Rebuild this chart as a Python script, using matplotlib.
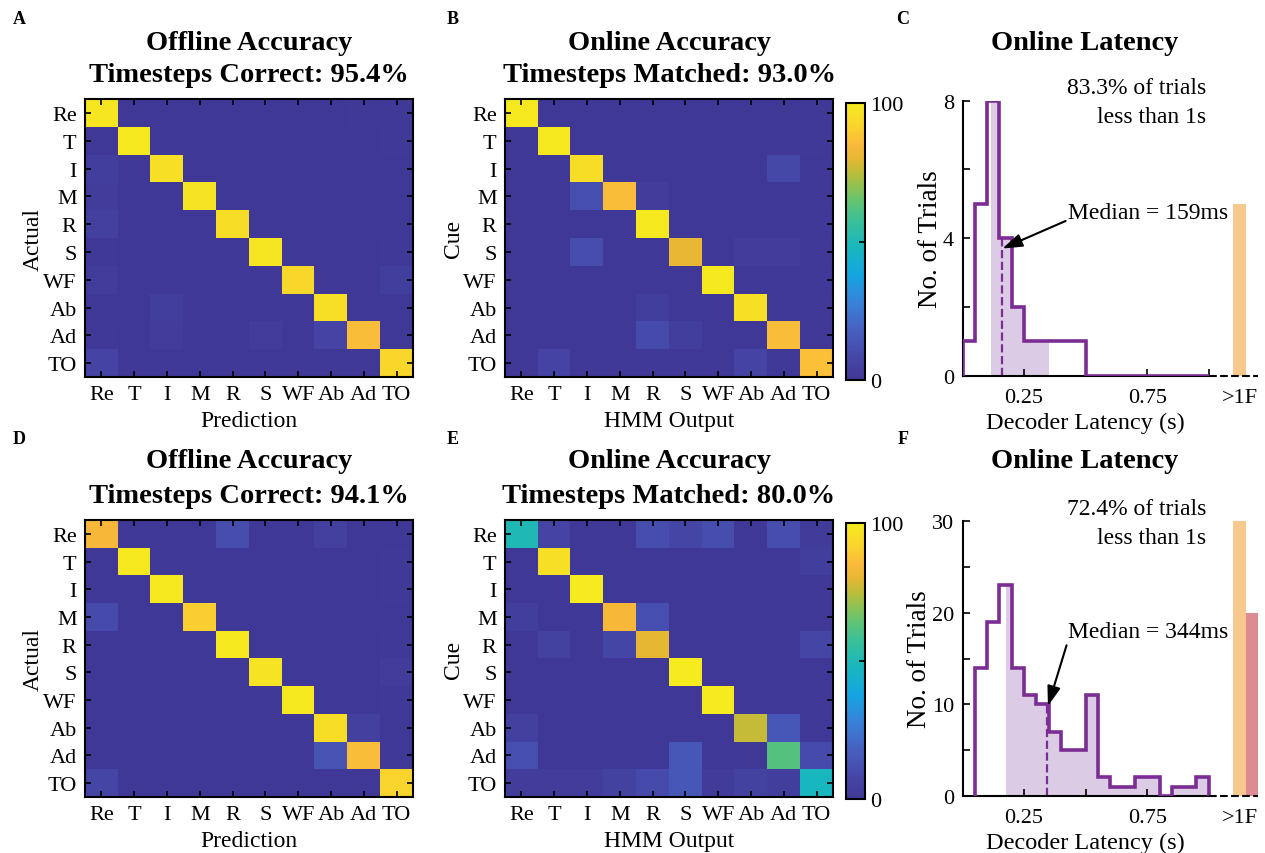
import matplotlib.pyplot as plt
import numpy as np
from matplotlib.colors import LinearSegmentedColormap

plt.rcParams['font.family'] = ['Liberation Serif', 'DejaVu Serif']

gestures = ['Re', 'T', 'I', 'M', 'R', 'S', 'WF', 'Ab', 'Ad', 'TO']

# confusion matrices in percent (rows = actual / cued, cols = predicted / HMM output)
offline_top = [
    [98, 0, 0, 0, 0, 0, 0, 0, 1, 1],
    [0, 99, 0, 0, 0, 0, 0, 0, 0, 1],
    [4, 0, 96, 0, 0, 0, 0, 0, 0, 0],
    [3, 0, 0, 97, 0, 0, 0, 0, 0, 0],
    [5, 0, 0, 0, 95, 0, 0, 0, 0, 0],
    [1, 0, 0, 0, 0, 98, 0, 0, 0, 1],
    [3, 0, 0, 0, 0, 0, 93, 0, 0, 4],
    [0, 0, 4, 0, 0, 0, 0, 96, 0, 0],
    [1, 0, 3, 0, 0, 3, 0, 7, 86, 0],
    [7, 0, 0, 0, 0, 0, 0, 0, 0, 93],
]
online_top = [
    [99, 0, 0, 0, 0, 0, 0, 0, 0, 1],
    [0, 99, 0, 0, 0, 0, 0, 0, 0, 1],
    [0, 0, 95, 0, 0, 0, 0, 0, 9, 0],
    [0, 0, 12, 86, 3, 0, 0, 0, 0, 0],
    [0, 0, 0, 0, 99, 0, 0, 0, 0, 1],
    [0, 0, 11, 0, 0, 81, 0, 3, 3, 0],
    [0, 0, 0, 0, 0, 0, 99, 0, 0, 1],
    [0, 0, 0, 0, 4, 0, 0, 96, 0, 0],
    [0, 0, 0, 0, 10, 4, 0, 0, 86, 0],
    [0, 7, 0, 0, 0, 0, 0, 7, 0, 87],
]
offline_bot = [
    [84, 0, 0, 0, 11, 0, 0, 5, 0, 0],
    [0, 99, 0, 0, 0, 0, 0, 0, 0, 1],
    [0, 0, 99, 0, 0, 0, 0, 0, 0, 1],
    [10, 0, 0, 90, 0, 0, 0, 0, 0, 0],
    [0, 0, 0, 0, 99, 0, 0, 0, 0, 1],
    [0, 0, 0, 0, 0, 97, 0, 0, 0, 3],
    [0, 0, 0, 0, 0, 0, 99, 0, 0, 1],
    [0, 0, 0, 0, 0, 0, 0, 95, 5, 0],
    [0, 0, 0, 0, 0, 0, 0, 14, 86, 0],
    [8, 0, 0, 0, 0, 0, 0, 0, 0, 92],
]
online_bot = [
    [50, 7, 0, 0, 11, 8, 11, 0, 11, 2],
    [0, 96, 0, 0, 0, 0, 0, 0, 0, 4],
    [0, 0, 100, 0, 0, 0, 0, 0, 0, 0],
    [4, 0, 0, 84, 12, 0, 0, 0, 0, 0],
    [0, 6, 0, 8, 80, 0, 0, 0, 0, 8],
    [0, 0, 0, 0, 0, 100, 0, 0, 0, 0],
    [0, 0, 0, 0, 0, 0, 100, 0, 0, 0],
    [5, 0, 0, 0, 0, 0, 0, 76, 15, 0],
    [12, 0, 0, 0, 0, 15, 0, 0, 62, 10],
    [3, 3, 3, 6, 10, 15, 2, 6, 4, 48],
]
acc_offline_top = 95.4
acc_online_top = 93.0
acc_offline_bot = 94.1
acc_online_bot = 80.0

# decoder latency histograms (50 ms bins) plus trials slower than 1 s
lat_edges_top = np.round(np.arange(0.0, 1.001, 0.05), 2)
lat_counts_top = [1, 5, 8, 4, 2, 1, 1, 1, 1, 1, 0, 0, 0, 0, 0, 0, 0, 0, 0, 0]
lat_over_top = [5]
lat_iqr_top = (0.117, 0.352)
lat_median_top = 0.159
lat_pct_top = 83.3

lat_edges_bot = np.round(np.arange(0.05, 1.001, 0.05), 2)
lat_counts_bot = [14, 19, 23, 14, 11, 10, 7, 5, 5, 11, 2, 1, 1, 2, 2, 0, 1, 1, 2]
lat_over_bot = [30, 20]
lat_iqr_bot = (0.177, 1.0)
lat_median_bot = 0.344
lat_pct_bot = 72.4

# parula-like colour map
anchors = [
    (0.00, (64, 56, 150)), (0.08, (70, 70, 166)), (0.18, (72, 96, 192)),
    (0.28, (55, 130, 218)), (0.38, (20, 165, 225)), (0.48, (25, 183, 190)),
    (0.58, (60, 192, 150)), (0.66, (110, 196, 105)), (0.74, (180, 190, 60)),
    (0.80, (230, 183, 50)), (0.85, (250, 185, 60)), (0.92, (250, 212, 45)),
    (1.00, (245, 235, 30)),
]
parula = LinearSegmentedColormap.from_list(
    'parula', [(p, tuple(v / 255 for v in c)) for p, c in anchors])

purple = '#7b2d93'
W, H = 1265, 854
fig = plt.figure(figsize=(W / 100, H / 100), dpi=100)


def px_axes(x0, y0, x1, y1):
    return fig.add_axes([x0 / W, 1 - y1 / H, (x1 - x0) / W, (y1 - y0) / H])


def conf_panel(box, mat, xlabel, ylabel, cbar_box=None):
    ax = px_axes(*box)
    im = ax.imshow(np.array(mat), cmap=parula, vmin=0, vmax=100,
                   aspect='auto', interpolation='nearest')
    ax.set_xticks(range(10))
    ax.set_yticks(range(10))
    ax.set_xticklabels(gestures)
    ax.set_yticklabels(gestures)
    ax.tick_params(direction='in', top=True, right=True, length=4, width=1.2,
                   labelsize=16, pad=6)
    for s in ax.spines.values():
        s.set_linewidth(1.5)
    ax.set_xlabel(xlabel, fontsize=17, labelpad=4)
    ax.set_ylabel(ylabel, fontsize=17)
    ax.yaxis.set_label_coords(-0.125, 0.5)
    if cbar_box is not None:
        cax = px_axes(*cbar_box)
        cb = fig.colorbar(im, cax=cax, ticks=[0, 50, 100])
        cb.ax.set_yticklabels(['0', '', '100'])
        cb.ax.tick_params(direction='in', length=4, width=1.2, labelsize=16)
        cb.outline.set_linewidth(1.5)
    return ax


def latency_panel(box, edges, counts, over, iqr, median, pct, ymax, ystep,
                  text_y, med_text_xy, med_head_y):
    ax = px_axes(*box)
    edges = np.asarray(edges)
    counts = np.asarray(counts)

    # shaded interquartile region under the histogram
    lo, hi = iqr
    xs = np.concatenate([[lo], edges[(edges > lo) & (edges < hi)], [hi]])
    idx = np.clip(np.searchsorted(edges, xs, side='right') - 1, 0, len(counts) - 1)
    ax.fill_between(xs, counts[idx], step='post', color='#dccbe4', lw=0, zorder=1)

    ax.stairs(counts, edges, baseline=0, color=purple, lw=2.6, zorder=3)

    mh = counts[np.searchsorted(edges, median, side='right') - 1]
    ax.plot([median, median], [0, mh], '--', color=purple, lw=1.6, zorder=2)

    over_cols = ['#f8c98e', '#dc8b93']
    ax.bar([1.125 + 0.05 * i for i in range(len(over))], over, width=0.05,
           color=over_cols[:len(over)], zorder=2)
    ax.plot([1.0, 1.2], [0, 0], '--', color='k', lw=1.5, clip_on=False, zorder=4)

    ax.set_xlim(0, 1.2)
    ax.set_ylim(0, ymax)
    ax.spines['top'].set_visible(False)
    ax.spines['right'].set_visible(False)
    ax.spines['bottom'].set_bounds(0, 1.0)
    for s in ('left', 'bottom'):
        ax.spines[s].set_linewidth(1.5)
    ax.set_xticks([0.25, 0.5, 0.75, 1.0, 1.125])
    ax.set_xticklabels(['0.25', '', '0.75', '', '>1F'])
    ax.xaxis.get_major_ticks()[-1].tick1line.set_visible(False)
    yt = np.arange(0, ymax + 1, ystep)
    ax.set_yticks(yt)
    ax.set_yticklabels([str(int(v)) if i % 2 == 0 else '' for i, v in enumerate(yt)])
    ax.tick_params(direction='in', length=5, width=1.2, labelsize=16)
    ax.tick_params(axis='x', pad=9)
    ax.tick_params(axis='y', pad=6)
    ax.set_xlabel('Decoder Latency (s)', fontsize=17.5)
    ax.xaxis.set_label_coords(0.415, -0.13)
    ax.set_ylabel('No. of Trials', fontsize=19.5, labelpad=0)

    ax.text(0.99, text_y, '%.1f%% of trials\nless than 1s' % pct, ha='right',
            va='top', fontsize=17, linespacing=1.5, clip_on=False)
    ax.annotate('Median = %dms' % round(median * 1000),
                xy=(median + 0.003, med_head_y), xytext=med_text_xy,
                ha='left', va='center', fontsize=17,
                arrowprops=dict(arrowstyle='-|>,head_length=0.6,head_width=0.2',
                                color='k', lw=1.5, relpos=(0.0, 0.15),
                                shrinkA=0, shrinkB=0, mutation_scale=20))
    return ax


conf_panel((85, 100, 413, 378), offline_top, 'Prediction', 'Actual')
conf_panel((505, 100, 833, 378), online_top, 'HMM Output', 'Cue', (846, 104, 865, 381))
conf_panel((85, 521, 413, 798), offline_bot, 'Prediction', 'Actual')
conf_panel((505, 521, 833, 798), online_bot, 'HMM Output', 'Cue', (846, 524, 865, 800))

latency_panel((962.5, 101.7, 1258, 376.7), lat_edges_top, lat_counts_top, lat_over_top,
              lat_iqr_top, lat_median_top, lat_pct_top, 8, 2, 8.68, (0.43, 4.75), 3.7)
latency_panel((962.5, 522.3, 1258, 796.7), lat_edges_bot, lat_counts_bot, lat_over_bot,
              lat_iqr_bot, lat_median_bot, lat_pct_bot, 30, 5, 32.6, (0.43, 17.9), 9.8)

titles = [
    (249, 43, 'Offline Accuracy'), (249, 76, 'Timesteps Correct: %.1f%%' % acc_offline_top),
    (669, 43, 'Online Accuracy'), (669, 76, 'Timesteps Matched: %.1f%%' % acc_online_top),
    (1085, 43, 'Online Latency'),
    (249, 462, 'Offline Accuracy'), (249, 497, 'Timesteps Correct: %.1f%%' % acc_offline_bot),
    (669, 462, 'Online Accuracy'), (669, 497, 'Timesteps Matched: %.1f%%' % acc_online_bot),
    (1085, 462, 'Online Latency'),
]
for x, y, t in titles:
    fig.text(x / W, 1 - y / H, t, ha='center', va='center', fontsize=20.5,
             fontweight='bold')

for x, y, t in [(19, 19, 'A'), (453, 19, 'B'), (903, 19, 'C'),
                (19, 440, 'D'), (453, 440, 'E'), (903, 440, 'F')]:
    fig.text(x / W, 1 - y / H, t, ha='center', va='center', fontsize=13,
             fontweight='bold')

fig.savefig('out.png', dpi=100)
